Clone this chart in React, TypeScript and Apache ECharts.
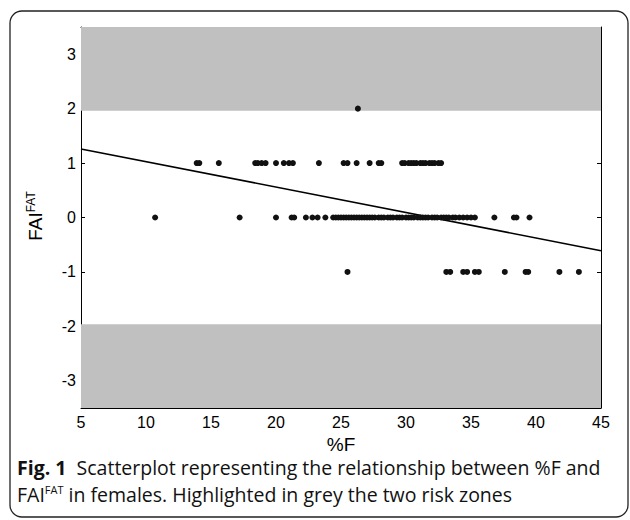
import React, { useEffect, useRef } from "react";
import * as echarts from "echarts";

// %F values of the points on each FAI^FAT level
const row2X = [26.3];
const row1X = [
  13.9, 14.1, 15.6, 18.4, 18.6, 18.9, 19.2, 20.0, 20.6, 21.0, 21.3, 23.3, 25.2,
  25.5, 26.2, 27.2, 27.9, 28.1, 29.7, 29.9, 30.2, 30.4, 30.6, 30.8, 31.1, 31.3,
  31.5, 31.8, 32.0, 32.2, 32.5, 32.7,
];
const row0X = [
  10.7, 17.2, 20.0, 21.2, 21.4, 22.3, 22.8, 23.2, 23.8, 24.4, 24.6, 24.8, 25.0,
  25.2, 25.4, 25.6, 25.8, 26.0, 26.2, 26.4, 26.6, 26.8, 27.0, 27.2, 27.4, 27.6,
  27.9, 28.1, 28.3, 28.6, 28.8, 29.0, 29.3, 29.5, 29.7, 30.0, 30.2, 30.4, 30.6,
  30.9, 31.1, 31.3, 31.5, 31.7, 32.0, 32.2, 32.4, 32.7, 32.9, 33.1, 33.3, 33.6,
  33.8, 34.1, 34.4, 34.7, 35.0, 35.3, 36.8, 38.3, 38.5, 39.5,
];
const rowM1X = [25.5, 33.1, 33.4, 34.4, 34.7, 35.3, 35.6, 37.6, 39.2, 39.4, 41.8, 43.3];
const rowLevels = [2, 1, 0, -1];

// regression line end points [%F, FAI]
const fitLine = [
  [5, 1.26],
  [45, -0.61],
];
// risk zone limits
const riskUpper = [1.96, 3.5];
const riskLower = [-3.5, -1.96];

const xTicks = { min: 5, max: 45, interval: 5 };
const yRange = { min: -3.5, max: 3.5 };

export default function App() {
  const ref = useRef<HTMLDivElement>(null);
  useEffect(() => {
    if (!ref.current) return;
    const chart = echarts.init(ref.current, undefined, { renderer: "svg" });
    const rows = [row2X, row1X, row0X, rowM1X];
    const points: number[][] = [];
    rows.forEach((xs, i) => xs.forEach((x) => points.push([x, rowLevels[i]])));
    const font = "Liberation Sans";
    const capFont = "Open Sans";
    const axisCommon = {
      axisLine: { show: true, onZero: false, lineStyle: { color: "#000", width: 1 } },
      axisTick: { show: true, inside: true, length: 4, lineStyle: { color: "#000" } },
      splitLine: { show: false },
    };
    chart.setOption({
      animation: false,
      backgroundColor: "#fff",
      grid: { left: 81, right: 29, top: 27, bottom: 112, containLabel: false },
      xAxis: [
        {
          type: "value",
          ...xTicks,
          ...axisCommon,
          axisLabel: { color: "#000", fontSize: 16, fontFamily: font, margin: 6 },
          name: "%F",
          nameLocation: "middle",
          nameGap: 23,
          nameTextStyle: { color: "#000", fontSize: 19, fontFamily: font, verticalAlign: "top" },
        },
        {
          type: "value",
          position: "top",
          ...xTicks,
          ...axisCommon,
          axisLabel: { show: false },
        },
      ],
      yAxis: [
        {
          type: "value",
          ...yRange,
          splitNumber: 7,
          ...axisCommon,
          axisLabel: {
            color: "#000",
            fontSize: 16,
            fontFamily: font,
            margin: 5,
            showMinLabel: false,
            showMaxLabel: false,
          },
        },
        {
          type: "value",
          position: "right",
          ...yRange,
          splitNumber: 7,
          ...axisCommon,
          axisLabel: { show: false },
        },
      ],
      series: [
        {
          type: "line",
          data: [],
          silent: true,
          markArea: {
            silent: true,
            itemStyle: { color: "#c0c0c0" },
            data: [
              [{ yAxis: riskUpper[0] }, { yAxis: riskUpper[1] }],
              [{ yAxis: riskLower[0] }, { yAxis: riskLower[1] }],
            ],
          },
        },
        {
          type: "line",
          data: fitLine,
          showSymbol: false,
          symbol: "none",
          lineStyle: { color: "#000", width: 1.6 },
          z: 3,
        },
        {
          type: "scatter",
          data: points,
          symbolSize: 6,
          itemStyle: { color: "#111", opacity: 1 },
          z: 4,
        },
      ],
      graphic: [
        {
          type: "rect",
          shape: { x: 10, y: 11, width: 618, height: 506, r: 12 },
          style: { fill: "none", stroke: "#222", lineWidth: 1.3 },
          silent: true,
        },
        {
          type: "text",
          x: 35,
          y: 216,
          rotation: Math.PI / 2,
          style: {
            text: "{a|FAI}{b|FAT}",
            align: "center",
            verticalAlign: "middle",
            rich: {
              a: { fontSize: 19, fontFamily: font, fill: "#000" },
              b: { fontSize: 12, fontFamily: font, fill: "#000", padding: [0, 0, 9, 0] },
            },
          },
        },
        {
          type: "text",
          x: 17,
          y: 467,
          style: {
            text: "{bold|Fig. 1}{n|  Scatterplot representing the relationship between %F and}",
            verticalAlign: "middle",
            rich: {
              bold: { fontSize: 19.5, fontFamily: capFont, fontWeight: "bold", fill: "#111" },
              n: { fontSize: 19.5, fontFamily: capFont, fill: "#111" },
            },
          },
        },
        {
          type: "text",
          x: 17,
          y: 494,
          style: {
            text: "{n|FAI}{s|FAT}{n| in females. Highlighted in grey the two risk zones}",
            verticalAlign: "middle",
            rich: {
              n: { fontSize: 19.5, fontFamily: capFont, fill: "#111" },
              s: { fontSize: 11, fontFamily: capFont, fill: "#111", padding: [0, 0, 10, 0] },
            },
          },
        },
      ],
    });
    return () => chart.dispose();
  }, []);
  return (
    <div
      ref={ref}
      style={{ position: "fixed", left: 0, top: 0, width: 630, height: 520 }}
    />
  );
}
